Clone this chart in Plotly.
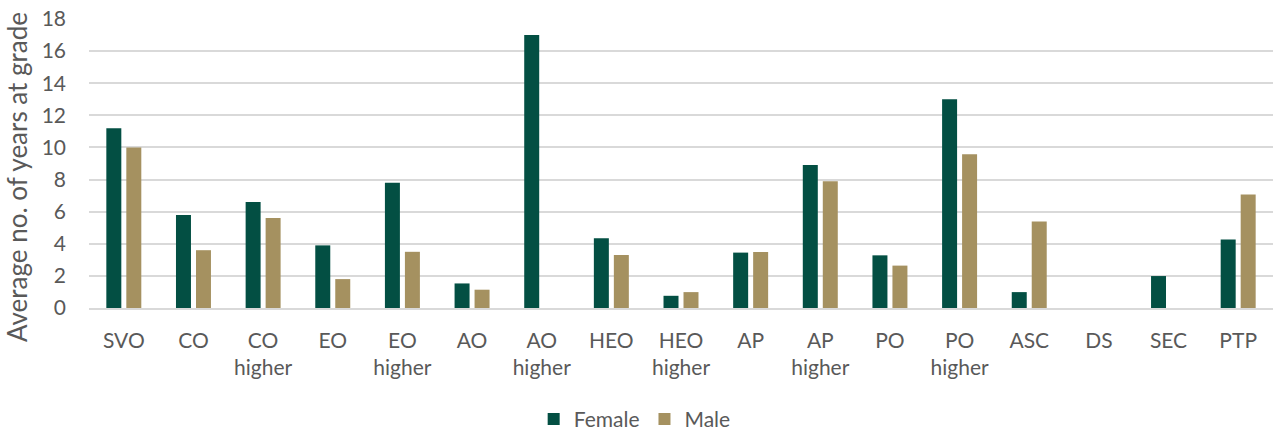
import plotly.graph_objects as go

categories = ["SVO", "CO", "CO<br>higher", "EO", "EO<br>higher", "AO", "AO<br>higher", "HEO",
              "HEO<br>higher", "AP", "AP<br>higher", "PO", "PO<br>higher", "ASC", "DS", "SEC", "PTP"]
female = [11.2, 5.8, 6.6, 3.9, 7.8, 1.53, 17.0, 4.35, 0.76, 3.45, 8.9, 3.28, 13.0, 0.99, 0, 1.99, 4.26]
male = [10.0, 3.6, 5.6, 1.8, 3.5, 1.14, 0, 3.3, 0.99, 3.49, 7.9, 2.64, 9.57, 5.39, 0, 0, 7.07]
y_ticks = [0, 2, 4, 6, 8, 10, 12, 14, 16, 18]
y_title = "Average no. of years at grade"

FONT = "Lato, Carlito, Calibri, sans-serif"
TXT = "#595959"

fig = go.Figure()
fig.add_trace(go.Bar(name="Female", x=categories, y=female,
                     marker=dict(color="#034F43", line=dict(width=0))))
fig.add_trace(go.Bar(name="Male", x=categories, y=male,
                     marker=dict(color="#A59160", line=dict(width=0))))

fig.update_layout(
    width=1277, height=430,
    margin=dict(l=89, r=4, t=19, b=122, autoexpand=False),
    paper_bgcolor="white", plot_bgcolor="white",
    barmode="group", bargap=0.426, bargroupgap=0.25,
    font=dict(family=FONT, color=TXT, size=21),
    showlegend=True,
    legend=dict(orientation="h", x=0.497, xanchor="center", xref="container",
                y=0.025, yanchor="middle", yref="container",
                font=dict(size=21, color=TXT), traceorder="normal"),
    xaxis=dict(showgrid=False, showline=True, linecolor="#D9D9D9", linewidth=1.5,
               tickfont=dict(size=21, color=TXT), ticks="", ticklabelstandoff=13, automargin=False),
    yaxis=dict(range=[0, 18], tickvals=y_ticks, showgrid=True, gridcolor="#D9D9D9", gridwidth=1.5,
               zeroline=False, showline=False, ticks="", ticklabelstandoff=22, automargin=False,
               tickfont=dict(size=21, color=TXT)),
    annotations=[dict(text=y_title, textangle=-90, xref="paper", yref="paper",
                      x=(17 - 89) / 1184, y=(308 - 177) / 289, xanchor="center", yanchor="middle",
                      showarrow=False, font=dict(size=26, color=TXT))],
)

fig.write_html("out.html", config={"displayModeBar": False},
               post_script="document.body.style.margin='0';document.body.style.padding='0';")
